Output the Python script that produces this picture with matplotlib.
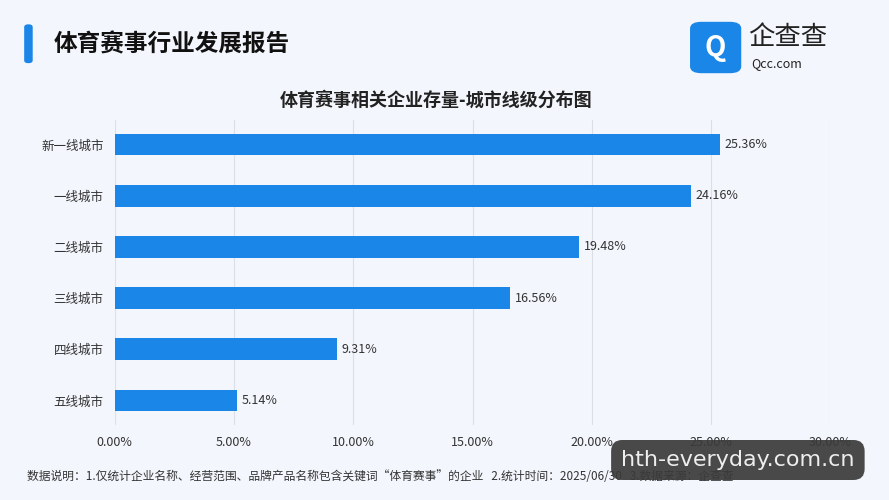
import matplotlib.pyplot as plt
from matplotlib.patches import FancyBboxPatch

plt.rcParams['font.family'] = ['Noto Sans CJK SC', 'DejaVu Sans']

cities = ['新一线城市', '一线城市', '二线城市', '三线城市', '四线城市', '五线城市']
shares = [25.36, 24.16, 19.48, 16.56, 9.31, 5.14]
ticks = [0, 5, 10, 15, 20, 25, 30]

fig = plt.figure(figsize=(8.89, 5), dpi=100)
fig.patch.set_facecolor('#f3f6fc')
ax = fig.add_axes([0.129, 0.15, 0.805, 0.61])
ax.set_facecolor('#f3f6fc')

y = list(range(len(cities)))
ax.barh(y, shares, height=0.42, color='#1a86e8', zorder=3)
for yi, v in zip(y, shares):
    ax.text(v + 0.2, yi, f'{v:.2f}%', va='center', ha='left', fontsize=9, color='#333333')
ax.set_yticks(y)
ax.set_yticklabels(cities, fontsize=9, color='#333333')
ax.invert_yaxis()
ax.set_xlim(0, 30)
ax.set_xticks(ticks)
ax.set_xticklabels([f'{t:.2f}%' for t in ticks], fontsize=9, color='#333333')
ax.grid(axis='x', color='#dcdfe6', lw=0.8, zorder=0)
for s in ax.spines.values():
    s.set_visible(False)
ax.tick_params(length=0, pad=8)

# header
fig.patches.append(FancyBboxPatch((0.028, 0.875), 0.008, 0.075, boxstyle='round,pad=0,rounding_size=0.004',
                                  transform=fig.transFigure, color='#1a86e8'))
fig.text(0.06, 0.912, '体育赛事行业发展报告', fontsize=17, fontweight='bold', va='center', color='#111111')
fig.text(0.49, 0.80, '体育赛事相关企业存量-城市线级分布图', fontsize=13, fontweight='bold', ha='center', va='center', color='#222222')

# logo
fig.patches.append(FancyBboxPatch((0.777, 0.855), 0.056, 0.1, boxstyle='round,pad=0,rounding_size=0.012',
                                  transform=fig.transFigure, color='#1a86e8'))
fig.text(0.805, 0.905, 'Q', fontsize=20, fontweight='bold', color='white', ha='center', va='center')
fig.text(0.842, 0.925, '企查查', fontsize=19, ha='left', va='center', color='#222222')
fig.text(0.845, 0.872, 'Qcc.com', fontsize=9, ha='left', va='center', color='#222222')

fig.text(0.03, 0.048, '数据说明：1.仅统计企业名称、经营范围、品牌产品名称包含关键词“体育赛事”的企业   2.统计时间：2025/06/30   3.数据来源：企查查',
         fontsize=8.5, va='center', color='#333333')

# watermark overlay
fig.text(0.83, 0.08, 'hth-everyday.com.cn', fontsize=16, color='#eeeeee', ha='center', va='center',
         family=['DejaVu Sans'],
         bbox=dict(boxstyle='round,pad=0.45,rounding_size=0.5', fc='#3a3a3a', ec='none', alpha=0.92))

fig.savefig('out.png', dpi=100, facecolor=fig.get_facecolor())
